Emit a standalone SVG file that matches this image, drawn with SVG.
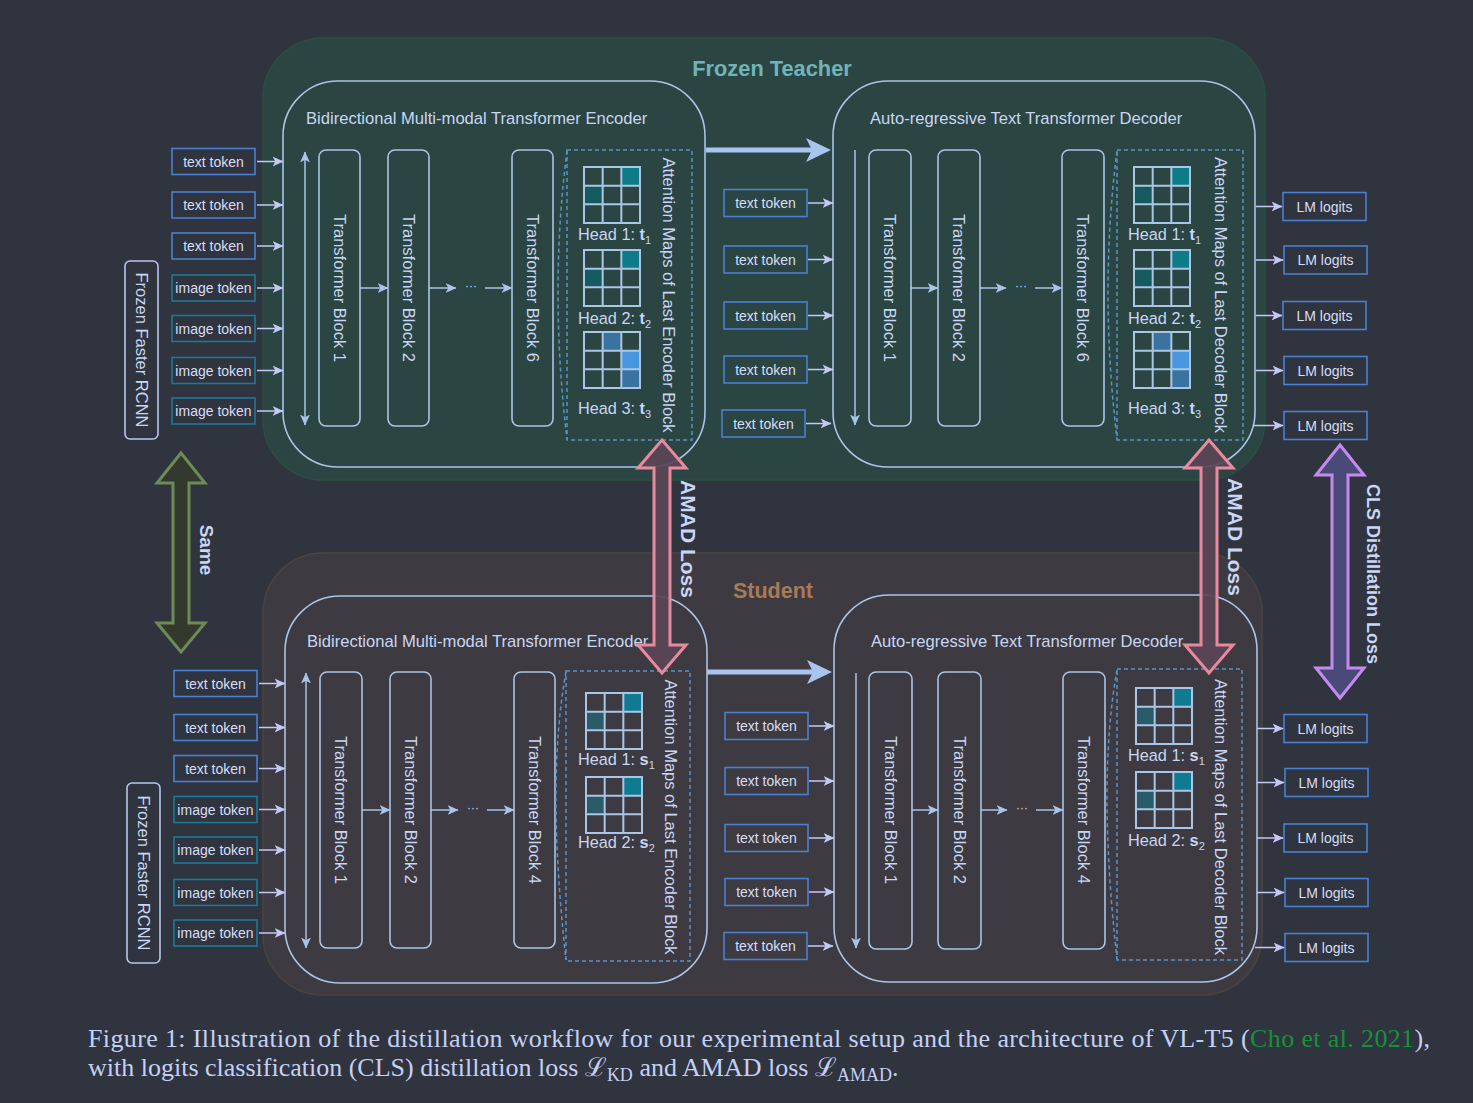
<svg xmlns="http://www.w3.org/2000/svg" xmlns:xlink="http://www.w3.org/1999/xlink" width="1473" height="1103" viewBox="0 0 1473 1103">
<style>
.sans{font-family:"Liberation Sans",Arial,sans-serif}
.serif{font-family:"Liberation Serif","Times New Roman",serif}
.box{fill:none;stroke:#a9c4e6;stroke-width:1.6}
.blk{fill:none;stroke:#a9c4e6;stroke-width:1.6}
.dash{fill:none;stroke:#5a93c6;stroke-width:1.5;stroke-dasharray:4 3}
.tt{fill:none;stroke:#4a7fd2;stroke-width:1.6}
.it{fill:none;stroke:#1a7a96;stroke-width:1.6}
.lm{fill:none;stroke:#4a7fd2;stroke-width:1.6}
.rc{fill:none;stroke:#b9c6ec;stroke-width:1.6}
.tokt{font-size:14px;fill:#d6def6;text-anchor:middle;dominant-baseline:central}
.title{font-size:16.6px;fill:#c9d6f3}
.rot{font-size:16.5px;fill:#c9d6f3;text-anchor:middle;dominant-baseline:central}
.head{font-size:16.3px;fill:#c9d6f3}
.con{stroke:#c3c9f4;stroke-width:1.5;fill:none}
.con2{stroke:#a9c4ea;stroke-width:1.5;fill:none}
.big{stroke:#a9c4ee;stroke-width:5;fill:none}
.bold{font-weight:bold}
.loss{fill:#c9d6f5;font-weight:bold;text-anchor:middle;dominant-baseline:central}
.dots{font-size:12px;fill:#c9d6f3;text-anchor:middle}
</style>
<defs>
<marker id="ah" viewBox="0 0 10 10" refX="9.5" refY="5" markerWidth="11" markerHeight="11" markerUnits="userSpaceOnUse" orient="auto-start-reverse">
<path d="M0,0.5 L10,5 L0,9.5 L2.5,5 z" fill="#c3c9f4"/>
</marker>
<marker id="ah2" viewBox="0 0 10 10" refX="9.5" refY="5" markerWidth="11" markerHeight="11" markerUnits="userSpaceOnUse" orient="auto-start-reverse">
<path d="M0,0.5 L10,5 L0,9.5 L2.5,5 z" fill="#a9c4ea"/>
</marker>
<g id="gl">
<rect x="0" y="0" width="56" height="56" fill="none" stroke="#a9c6e6" stroke-width="2"/>
<path d="M18.67,0V56M37.33,0V56M0,18.67H56M0,37.33H56" stroke="#a9c6e6" stroke-width="2"/>
</g>
<g id="gA">
<rect x="37.33" y="0" width="18.67" height="18.67" fill="#0e7c86"/>
<rect x="0" y="18.67" width="18.67" height="18.67" fill="#155a5e"/>
<use href="#gl"/>
</g>
<g id="gB">
<rect x="18.67" y="0" width="18.67" height="18.67" fill="#3a72a0"/>
<rect x="37.33" y="18.67" width="18.67" height="18.67" fill="#4896e0"/>
<rect x="37.33" y="37.33" width="18.67" height="18.67" fill="#3a72a0"/>
<use href="#gl"/>
</g>
<g id="gS">
<rect x="37.33" y="0" width="18.67" height="18.67" fill="#0f7b93"/>
<rect x="0" y="18.67" width="18.67" height="18.67" fill="#2a5b66"/>
<use href="#gl"/>
</g>
</defs>

<rect x="0" y="0" width="1473" height="1103" fill="#30343f"/>

<!-- containers -->
<g id="teacher">
<rect x="263" y="38" width="1002" height="442" rx="60" fill="#2b4542" stroke="#2a4f42" stroke-width="1.5"/>
<text x="772" y="76" class="sans bold" font-size="21.8" fill="#6fb4b8" text-anchor="middle">Frozen Teacher</text>
</g>
<g id="student">
<rect x="263" y="553" width="999" height="442" rx="60" fill="#3d3b41" stroke="#4a4440" stroke-width="1.5"/>
<text x="773" y="598" class="sans bold" font-size="21.5" fill="#a87b56" text-anchor="middle">Student</text>
</g>

<!-- teacher encoder -->
<g id="t-encoder">
<rect class="box" x="283" y="81" width="422" height="386" rx="55"/>
<text class="sans title" x="306" y="124">Bidirectional Multi-modal Transformer Encoder</text>
<rect class="blk" x="319" y="150" width="41" height="276" rx="7"/>
<rect class="blk" x="388" y="150" width="41" height="276" rx="7"/>
<rect class="blk" x="512" y="150" width="41" height="276" rx="7"/>
<text class="sans rot" transform="translate(339.5,288) rotate(90)">Transformer Block 1</text>
<text class="sans rot" transform="translate(408.5,288) rotate(90)">Transformer Block 2</text>
<text class="sans rot" transform="translate(532.5,288) rotate(90)">Transformer Block 6</text>
<text class="sans dots" x="471" y="290">···</text>
</g>
<g id="t-enc-attn">
<rect class="dash" x="567" y="150" width="125" height="290"/>
<path class="dash" d="M567,151 Q549,290 567,439"/>
<use href="#gA" x="584" y="167"/>
<use href="#gA" x="584" y="250"/>
<use href="#gB" x="584" y="332"/>
<text class="sans head" x="578" y="240">Head 1: <tspan font-weight="bold">t</tspan><tspan font-size="11" dy="4">1</tspan></text>
<text class="sans head" x="578" y="324">Head 2: <tspan font-weight="bold">t</tspan><tspan font-size="11" dy="4">2</tspan></text>
<text class="sans head" x="578" y="414">Head 3: <tspan font-weight="bold">t</tspan><tspan font-size="11" dy="4">3</tspan></text>
<text class="sans rot" transform="translate(669,295) rotate(90)">Attention Maps of Last Encoder Block</text>
</g>

<!-- teacher decoder -->
<g id="t-decoder">
<rect class="box" x="833" y="81" width="422" height="386" rx="55"/>
<text class="sans title" x="870" y="124">Auto-regressive Text Transformer Decoder</text>
<rect class="blk" x="869" y="150" width="42" height="276" rx="7"/>
<rect class="blk" x="938" y="150" width="42" height="276" rx="7"/>
<rect class="blk" x="1062" y="150" width="42" height="276" rx="7"/>
<text class="sans rot" transform="translate(890,288) rotate(90)">Transformer Block 1</text>
<text class="sans rot" transform="translate(959,288) rotate(90)">Transformer Block 2</text>
<text class="sans rot" transform="translate(1083,288) rotate(90)">Transformer Block 6</text>
<text class="sans dots" x="1021" y="290">···</text>
</g>
<g id="t-dec-attn">
<rect class="dash" x="1117" y="150" width="126" height="290"/>
<path class="dash" d="M1117,151 Q1099,290 1117,439"/>
<use href="#gA" x="1134" y="167"/>
<use href="#gA" x="1134" y="250"/>
<use href="#gB" x="1134" y="332"/>
<text class="sans head" x="1128" y="240">Head 1: <tspan font-weight="bold">t</tspan><tspan font-size="11" dy="4">1</tspan></text>
<text class="sans head" x="1128" y="324">Head 2: <tspan font-weight="bold">t</tspan><tspan font-size="11" dy="4">2</tspan></text>
<text class="sans head" x="1128" y="414">Head 3: <tspan font-weight="bold">t</tspan><tspan font-size="11" dy="4">3</tspan></text>
<text class="sans rot" transform="translate(1221,295) rotate(90)">Attention Maps of Last Decoder Block</text>
</g>

<!-- student encoder -->
<g id="s-encoder">
<rect class="box" x="285" y="596" width="422" height="387" rx="55"/>
<text class="sans title" x="307" y="647">Bidirectional Multi-modal Transformer Encoder</text>
<rect class="blk" x="320" y="672" width="42" height="276" rx="7"/>
<rect class="blk" x="390" y="672" width="41" height="276" rx="7"/>
<rect class="blk" x="514" y="672" width="41" height="276" rx="7"/>
<text class="sans rot" transform="translate(341,810) rotate(90)">Transformer Block 1</text>
<text class="sans rot" transform="translate(410.5,810) rotate(90)">Transformer Block 2</text>
<text class="sans rot" transform="translate(534.5,810) rotate(90)">Transformer Block 4</text>
<text class="sans dots" x="473" y="812">···</text>
</g>
<g id="s-enc-attn">
<rect class="dash" x="566" y="671" width="124" height="290"/>
<path class="dash" d="M566,672 Q546,780 566,960"/>
<use href="#gS" x="586" y="693"/>
<use href="#gS" x="586" y="777"/>
<text class="sans head" x="578" y="765">Head 1: <tspan font-weight="bold">s</tspan><tspan font-size="11" dy="4">1</tspan></text>
<text class="sans head" x="578" y="848">Head 2: <tspan font-weight="bold">s</tspan><tspan font-size="11" dy="4">2</tspan></text>
<text class="sans rot" transform="translate(671,817) rotate(90)">Attention Maps of Last Encoder Block</text>
</g>

<!-- student decoder -->
<g id="s-decoder">
<rect class="box" x="834" y="595" width="423" height="387" rx="55"/>
<text class="sans title" x="871" y="647">Auto-regressive Text Transformer Decoder</text>
<rect class="blk" x="869" y="672" width="43" height="277" rx="7"/>
<rect class="blk" x="938" y="672" width="43" height="277" rx="7"/>
<rect class="blk" x="1063" y="672" width="42" height="277" rx="7"/>
<text class="sans rot" transform="translate(890.5,810) rotate(90)">Transformer Block 1</text>
<text class="sans rot" transform="translate(959.5,810) rotate(90)">Transformer Block 2</text>
<text class="sans rot" transform="translate(1084,810) rotate(90)">Transformer Block 4</text>
<text class="sans dots" x="1022" y="812">···</text>
</g>
<g id="s-dec-attn">
<rect class="dash" x="1117" y="669" width="125" height="291"/>
<path class="dash" d="M1117,670 Q1097,780 1117,959"/>
<use href="#gS" x="1136" y="688"/>
<use href="#gS" x="1136" y="772"/>
<text class="sans head" x="1128" y="761">Head 1: <tspan font-weight="bold">s</tspan><tspan font-size="11" dy="4">1</tspan></text>
<text class="sans head" x="1128" y="846">Head 2: <tspan font-weight="bold">s</tspan><tspan font-size="11" dy="4">2</tspan></text>
<text class="sans rot" transform="translate(1221,817) rotate(90)">Attention Maps of Last Decoder Block</text>
</g>

<!-- Frozen Faster RCNN -->
<g id="t-rcnn">
<rect class="rc" x="125" y="261" width="33" height="178" rx="5"/>
<text class="sans rot" transform="translate(141.5,350) rotate(90)">Frozen Faster RCNN</text>
</g>
<g id="s-rcnn">
<rect class="rc" x="127" y="783" width="33" height="180" rx="5"/>
<text class="sans rot" transform="translate(143.5,873) rotate(90)">Frozen Faster RCNN</text>
</g>

<!-- teacher input tokens -->
<g id="t-inputs">
<rect class="tt" x="172" y="148.5" width="83" height="26"/><text class="sans tokt" x="213.5" y="161.5">text token</text>
<rect class="tt" x="172" y="192" width="83" height="26"/><text class="sans tokt" x="213.5" y="205">text token</text>
<rect class="tt" x="172" y="233" width="83" height="26"/><text class="sans tokt" x="213.5" y="246">text token</text>
<rect class="it" x="172" y="275" width="83" height="26"/><text class="sans tokt" x="213.5" y="288">image token</text>
<rect class="it" x="172" y="315.5" width="83" height="26"/><text class="sans tokt" x="213.5" y="328.5">image token</text>
<rect class="it" x="172" y="357.5" width="83" height="26"/><text class="sans tokt" x="213.5" y="370.5">image token</text>
<rect class="it" x="172" y="398" width="83" height="26"/><text class="sans tokt" x="213.5" y="411">image token</text>
</g>
<g id="s-inputs">
<rect class="tt" x="174" y="670.5" width="83" height="26"/><text class="sans tokt" x="215.5" y="683.5">text token</text>
<rect class="tt" x="174" y="714.5" width="83" height="26"/><text class="sans tokt" x="215.5" y="727.5">text token</text>
<rect class="tt" x="174" y="755.5" width="83" height="26"/><text class="sans tokt" x="215.5" y="768.5">text token</text>
<rect class="it" x="174" y="796.5" width="83" height="26"/><text class="sans tokt" x="215.5" y="809.5">image token</text>
<rect class="it" x="174" y="837" width="83" height="26"/><text class="sans tokt" x="215.5" y="850">image token</text>
<rect class="it" x="174" y="879.5" width="83" height="26"/><text class="sans tokt" x="215.5" y="892.5">image token</text>
<rect class="it" x="174" y="920" width="83" height="26"/><text class="sans tokt" x="215.5" y="933">image token</text>
</g>

<!-- decoder text tokens -->
<g id="t-dec-inputs">
<rect class="tt" x="724" y="189.5" width="83" height="27"/><text class="sans tokt" x="765.5" y="203">text token</text>
<rect class="tt" x="724" y="246" width="83" height="27"/><text class="sans tokt" x="765.5" y="259.5">text token</text>
<rect class="tt" x="724" y="302" width="83" height="27"/><text class="sans tokt" x="765.5" y="315.5">text token</text>
<rect class="tt" x="724" y="356" width="83" height="27"/><text class="sans tokt" x="765.5" y="369.5">text token</text>
<rect class="tt" x="722" y="410" width="83" height="27"/><text class="sans tokt" x="763.5" y="423.5">text token</text>
</g>
<g id="s-dec-inputs">
<rect class="tt" x="725" y="712.5" width="83" height="27"/><text class="sans tokt" x="766.5" y="726">text token</text>
<rect class="tt" x="725" y="767.5" width="83" height="27"/><text class="sans tokt" x="766.5" y="781">text token</text>
<rect class="tt" x="725" y="824.5" width="83" height="27"/><text class="sans tokt" x="766.5" y="838">text token</text>
<rect class="tt" x="725" y="878.5" width="83" height="27"/><text class="sans tokt" x="766.5" y="892">text token</text>
<rect class="tt" x="724" y="932.5" width="83" height="27"/><text class="sans tokt" x="765.5" y="946">text token</text>
</g>

<!-- LM logits -->
<g id="t-logits">
<rect class="lm" x="1283" y="192.5" width="83" height="28"/><text class="sans tokt" x="1324.5" y="206.5">LM logits</text>
<rect class="lm" x="1284" y="246" width="83" height="28"/><text class="sans tokt" x="1325.5" y="260">LM logits</text>
<rect class="lm" x="1283" y="301.5" width="83" height="28"/><text class="sans tokt" x="1324.5" y="315.5">LM logits</text>
<rect class="lm" x="1284" y="356.5" width="83" height="28"/><text class="sans tokt" x="1325.5" y="370.5">LM logits</text>
<rect class="lm" x="1284" y="411.5" width="83" height="28"/><text class="sans tokt" x="1325.5" y="425.5">LM logits</text>
</g>
<g id="s-logits">
<rect class="lm" x="1284" y="714.5" width="83" height="28"/><text class="sans tokt" x="1325.5" y="728.5">LM logits</text>
<rect class="lm" x="1285" y="768.5" width="83" height="28"/><text class="sans tokt" x="1326.5" y="782.5">LM logits</text>
<rect class="lm" x="1284" y="824" width="83" height="28"/><text class="sans tokt" x="1325.5" y="838">LM logits</text>
<rect class="lm" x="1285" y="878.5" width="83" height="28"/><text class="sans tokt" x="1326.5" y="892.5">LM logits</text>
<rect class="lm" x="1285" y="933.5" width="83" height="28"/><text class="sans tokt" x="1326.5" y="947.5">LM logits</text>
</g>

<!-- connectors -->
<g id="connectors">
<g class="con" marker-end="url(#ah)">
<path d="M257,161.5H283"/><path d="M257,205H283"/><path d="M257,246H283"/><path d="M257,288H283"/><path d="M257,328.5H283"/><path d="M257,370.5H283"/><path d="M257,411H283"/>
<path d="M259,683.5H285"/><path d="M259,727.5H285"/><path d="M259,768.5H285"/><path d="M259,809.5H285"/><path d="M259,850H285"/><path d="M259,892.5H285"/><path d="M259,933H285"/>
<path d="M808,203H833"/><path d="M808,259.5H833"/><path d="M808,315.5H833"/><path d="M808,369.5H833"/><path d="M806,423.5H831"/>
<path d="M809,726H834"/><path d="M809,781H834"/><path d="M809,838H834"/><path d="M809,892H834"/><path d="M808,946H833"/>
<path d="M1256,206.5H1282"/><path d="M1256,260H1283"/><path d="M1256,315.5H1282"/><path d="M1256,370.5H1283"/><path d="M1253,425.5H1283"/>
<path d="M1257,728.5H1283"/><path d="M1257,782.5H1284"/><path d="M1257,838H1283"/><path d="M1257,892.5H1284"/><path d="M1255,947.5H1284"/>
</g>
<g class="con2" marker-end="url(#ah2)">
<path d="M360,288H388"/><path d="M429,288H456"/><path d="M485,288H512"/>
<path d="M911,288H938"/><path d="M980,288H1006"/><path d="M1035,288H1062"/>
<path d="M362,810H390"/><path d="M431,810H458"/><path d="M487,810H514"/>
<path d="M912,810H938"/><path d="M981,810H1007"/><path d="M1036,810H1063"/>
<path d="M305,152V425" marker-start="url(#ah2)"/>
<path d="M306,673V948" marker-start="url(#ah2)"/>
<path d="M855,150V425"/>
<path d="M856,673V948"/>
</g>
<path class="big" d="M706,150H812"/>
<polygon points="806,138 831,150 806,162 812,150" fill="#a9c4ee"/>
<path class="big" d="M707,672H813"/>
<polygon points="807,660 832,672 807,684 813,672" fill="#a9c4ee"/>
<polygon points="181,453 205,483 189,483 189,623 205,623 181,652 157,623 173,623 173,483 157,483" fill="#333a2d" stroke="#6e8a57" stroke-width="3"/>
<polygon points="662,440 686,468 670,468 670,645 686,645 662,673 638,645 654,645 654,468 638,468" fill="#5a4656" fill-opacity="0.92" stroke="#e8899f" stroke-width="3"/>
<polygon points="1209,440 1233,468 1217,468 1217,645 1233,645 1209,673 1185,645 1201,645 1201,468 1185,468" fill="#5a4656" fill-opacity="0.92" stroke="#e8899f" stroke-width="3"/>
<polygon points="1340,445 1364,475 1348,475 1348,668 1364,668 1340,698 1316,668 1332,668 1332,475 1316,475" fill="#4a4a78" stroke="#c58af0" stroke-width="3"/>
</g>

<g id="loss-labels">
<text class="sans loss" font-size="19" transform="translate(206,550) rotate(90)">Same</text>
<text class="sans loss" font-size="21" transform="translate(688,539) rotate(90)">AMAD Loss</text>
<text class="sans loss" font-size="21" transform="translate(1235,537) rotate(90)">AMAD Loss</text>
<text class="sans loss" font-size="18" transform="translate(1373,574) rotate(90)">CLS Distillation Loss</text>
</g>

<g id="caption" class="serif" fill="#c5d0f5" font-size="26">
<text x="88" y="1047" textLength="1342" lengthAdjust="spacing">Figure 1: Illustration of the distillation workflow for our experimental setup and the architecture of VL-T5 (<tspan fill="#17903c">Cho et al. 2021</tspan>),</text>
<text x="88" y="1076">with logits classification (CLS) distillation loss ℒ<tspan font-size="18" dy="5">KD</tspan><tspan dy="-5"> and AMAD loss ℒ</tspan><tspan font-size="18" dy="5">AMAD</tspan><tspan dy="-5">.</tspan></text>
</g>
</svg>
